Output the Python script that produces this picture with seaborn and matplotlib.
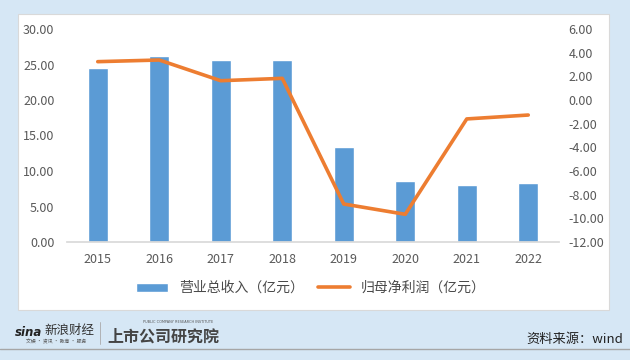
import numpy as np
import pandas as pd
import seaborn as sns
from matplotlib import pyplot as plt
from matplotlib.lines import Line2D
from matplotlib.patches import Patch, Rectangle

years = ["2015", "2016", "2017", "2018", "2019", "2020", "2021", "2022"]
revenue = [24.5, 26.2, 25.7, 25.7, 13.4, 8.6, 8.0, 8.35]  # 营业总收入（亿元）
profit = [3.24, 3.38, 1.63, 1.83, -8.79, -9.66, -1.6, -1.27]  # 归母净利润（亿元）
left_ticks = [0, 5, 10, 15, 20, 25, 30]
right_ticks = [-12, -10, -8, -6, -4, -2, 0, 2, 4, 6]

BAR = "#5b9bd5"
LINE = "#ed7d31"
TXT = "#595959"
BG = "#d6e7f5"

sns.set_theme(style="white")
plt.rcParams["font.family"] = ["Noto Sans CJK SC", "DejaVu Sans"]

df = pd.DataFrame({"year": years, "revenue": revenue, "profit": profit})

fig = plt.figure(figsize=(6.3, 3.6), dpi=100)
fig.patch.set_facecolor(BG)

# 白色面板（放在坐标轴之下）
fig.patches.append(Rectangle((18 / 630, 1 - 310 / 360), 591 / 630, 296 / 360,
                             transform=fig.transFigure, facecolor="white",
                             edgecolor="#d9d9d9", lw=0.8, zorder=-1))

ax = fig.add_axes([67 / 630, 1 - 242 / 360, 492 / 630, 213 / 360])
ax.set_facecolor("none")
sns.barplot(data=df, x="year", y="revenue", color=BAR, width=0.33,
            saturation=1, ax=ax)
ax.set_ylim(0, 30)
ax.set_xlim(-0.5, len(years) - 0.5)
ax.set_yticks(left_ticks)
ax.set_yticklabels([f"{v:.2f}" for v in left_ticks])
ax.set_xlabel("")
ax.set_ylabel("")
for s in ["top", "left", "right"]:
    ax.spines[s].set_visible(False)
ax.spines["bottom"].set_color("#d9d9d9")
ax.tick_params(axis="y", length=0, pad=9, labelsize=9, labelcolor=TXT)
ax.tick_params(axis="x", length=0, pad=8, labelsize=9, labelcolor=TXT)

ax2 = ax.twinx()
sns.lineplot(data=df, x="year", y="profit", color=LINE, lw=2.6, sort=False,
             ax=ax2)
ax2.set_ylim(-12, 6)
ax2.set_yticks(right_ticks)
ax2.set_yticklabels([f"{v:.2f}" for v in right_ticks])
ax2.set_ylabel("")
for s in ax2.spines.values():
    s.set_visible(False)
ax2.tick_params(axis="y", length=0, pad=7, labelsize=9, labelcolor=TXT)

handles = [Patch(facecolor=BAR, label="营业总收入（亿元）"),
           Line2D([], [], color=LINE, lw=2.6, label="归母净利润（亿元）")]
fig.legend(handles=handles, loc="center", bbox_to_anchor=(311 / 630, 1 - 288 / 360),
           ncol=2, frameon=False, fontsize=10, labelcolor="#4a4a4a",
           handlelength=2.3, handleheight=0.6, columnspacing=1.0)

# 底部标识
fig.text(15 / 630, 1 - 333 / 360, "sina", fontsize=8.5, fontweight="bold",
         style="italic", color="#222", va="center", family="DejaVu Sans")
fig.text(44 / 630, 1 - 330 / 360, "新浪财经", fontsize=9, color="#333",
         va="center")
fig.text(26 / 630, 1 - 342 / 360, "文娱 · 资讯 · 教育 · 服务", fontsize=3.5,
         color="#555", va="center")
fig.add_artist(Line2D([100 / 630, 100 / 630], [1 - 322 / 360, 1 - 344 / 360],
                      color="#aaaaaa", lw=0.6))
fig.text(107 / 630, 1 - 337 / 360, "上市公司研究院", fontsize=11.5,
         fontweight="bold", style="italic", color="#444", va="center")
fig.text(143 / 630, 1 - 322 / 360, "PUBLIC COMPANY RESEARCH INSTITUTE",
         fontsize=2.5, color="#555", va="center", family="DejaVu Sans")
fig.text(623 / 630, 1 - 339 / 360, "资料来源：wind", fontsize=9.5,
         color="#222", ha="right", va="center")
fig.add_artist(Line2D([0, 1], [1 - 349 / 360, 1 - 349 / 360],
                      color="#a6a6a6", lw=1))

fig.savefig("out.png", dpi=100, facecolor=fig.get_facecolor())
